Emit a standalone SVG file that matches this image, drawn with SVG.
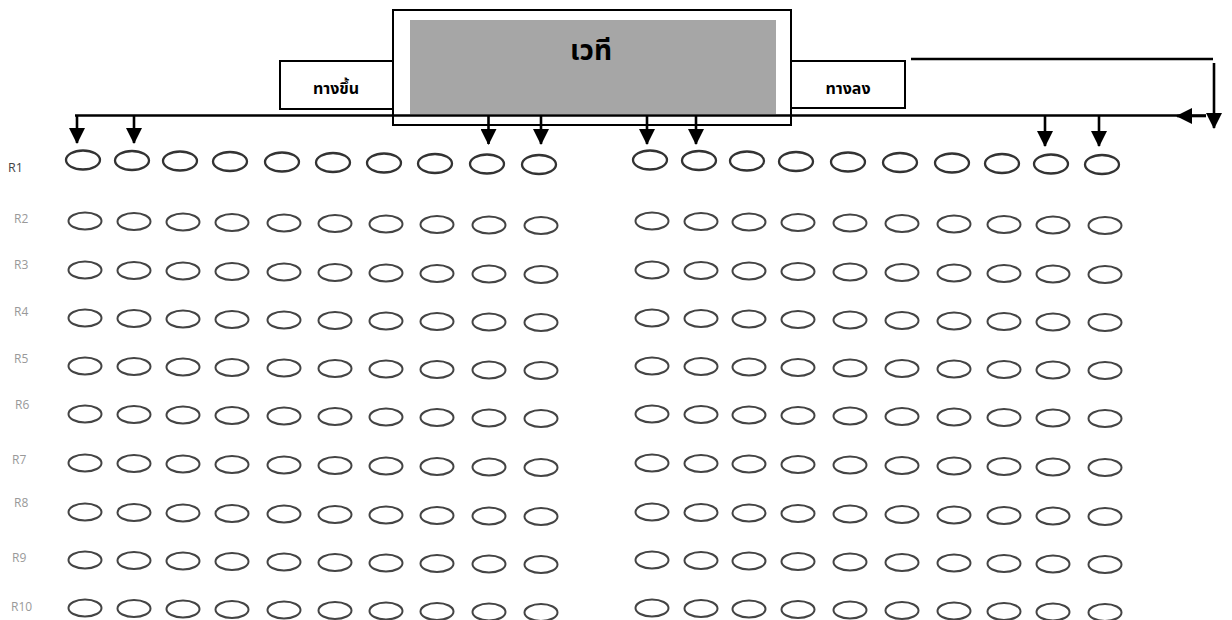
<svg xmlns="http://www.w3.org/2000/svg" width="1232" height="620" viewBox="0 0 1232 620">
<style>
.box{fill:#fff;stroke:#000;stroke-width:2}
.stage{fill:#a6a6a6;stroke:none}
.th{font-family:"Noto Sans Thai","Tahoma","Liberation Sans",sans-serif;font-weight:bold;fill:#000;text-anchor:middle}
.ln{fill:none;stroke:#000;stroke-width:2.6}
.s1{fill:none;stroke:#333;stroke-width:2.3}
.s{fill:none;stroke:#444;stroke-width:2}
.r1{font-family:"Open Sans","Liberation Sans",sans-serif;font-size:12.5px;fill:#444}
.r{font-family:"Open Sans","Liberation Sans",sans-serif;font-size:12px;fill:#999}
</style>
<defs>
<marker id="ah" markerUnits="userSpaceOnUse" markerWidth="16" markerHeight="16" viewBox="0 0 16 16" refX="15" refY="8" orient="auto">
<path d="M0,0 L16,8 L0,16 z" fill="#000"/>
</marker>
<g id="seats">
<ellipse class="s" cx="85" cy="0" rx="16.5" ry="8.5"/>
<ellipse class="s" cx="134" cy="0.5" rx="16.5" ry="8.5"/>
<ellipse class="s" cx="183" cy="1" rx="16.5" ry="8.5"/>
<ellipse class="s" cx="232" cy="1.5" rx="16.5" ry="8.5"/>
<ellipse class="s" cx="284" cy="2" rx="16.5" ry="8.5"/>
<ellipse class="s" cx="335" cy="2.5" rx="16.5" ry="8.5"/>
<ellipse class="s" cx="386" cy="3" rx="16.5" ry="8.5"/>
<ellipse class="s" cx="437" cy="3.5" rx="16.5" ry="8.5"/>
<ellipse class="s" cx="489" cy="4" rx="16.5" ry="8.5"/>
<ellipse class="s" cx="541" cy="4.5" rx="16.5" ry="8.5"/>
<ellipse class="s" cx="652" cy="0" rx="16.5" ry="8.5"/>
<ellipse class="s" cx="701" cy="0.5" rx="16.5" ry="8.5"/>
<ellipse class="s" cx="749" cy="1" rx="16.5" ry="8.5"/>
<ellipse class="s" cx="798" cy="1.5" rx="16.5" ry="8.5"/>
<ellipse class="s" cx="850" cy="2" rx="16.5" ry="8.5"/>
<ellipse class="s" cx="902" cy="2.5" rx="16.5" ry="8.5"/>
<ellipse class="s" cx="954" cy="3" rx="16.5" ry="8.5"/>
<ellipse class="s" cx="1004" cy="3.5" rx="16.5" ry="8.5"/>
<ellipse class="s" cx="1053" cy="4" rx="16.5" ry="8.5"/>
<ellipse class="s" cx="1105" cy="4.5" rx="16.5" ry="8.5"/>
</g>
</defs>
<rect width="1232" height="620" fill="#fff"/>

<g id="stage">
<rect class="box" x="393" y="10" width="398" height="115"/>
<rect class="stage" x="410" y="20" width="366" height="94"/>
<text class="th" x="591" y="60" font-size="28">เวที</text>
</g>
<g id="up-stairs">
<rect class="box" x="280" y="61" width="113" height="48"/>
<text class="th" x="336" y="94" font-size="16">ทางขึ้น</text>
</g>
<g id="down-stairs">
<rect class="box" x="791" y="61" width="114" height="47"/>
<text class="th" x="848" y="94" font-size="16">ทางลง</text>
</g>

<g id="connectors">
<line class="ln" x1="75" y1="115.5" x2="1206" y2="115.5"/>
<line class="ln" x1="1206" y1="116" x2="1177" y2="116" marker-end="url(#ah)"/>
<line class="ln" x1="911" y1="59" x2="1213" y2="59"/>
<line class="ln" x1="1214" y1="63" x2="1214" y2="128" marker-end="url(#ah)"/>
<line class="ln" x1="77" y1="115" x2="77" y2="143" marker-end="url(#ah)"/>
<line class="ln" x1="134" y1="115" x2="134" y2="143" marker-end="url(#ah)"/>
<line class="ln" x1="488.5" y1="115" x2="488.5" y2="144" marker-end="url(#ah)"/>
<line class="ln" x1="541" y1="115" x2="541" y2="144" marker-end="url(#ah)"/>
<line class="ln" x1="647" y1="115" x2="647" y2="144" marker-end="url(#ah)"/>
<line class="ln" x1="696" y1="115" x2="696" y2="144" marker-end="url(#ah)"/>
<line class="ln" x1="1045" y1="115" x2="1045" y2="146" marker-end="url(#ah)"/>
<line class="ln" x1="1099" y1="115" x2="1099" y2="146" marker-end="url(#ah)"/>
</g>

<g id="row-R1">
<text class="r1" x="8" y="172">R1</text>
<ellipse class="s1" cx="83" cy="160" rx="17" ry="9.5"/>
<ellipse class="s1" cx="132" cy="160.5" rx="17" ry="9.5"/>
<ellipse class="s1" cx="180" cy="161" rx="17" ry="9.5"/>
<ellipse class="s1" cx="230" cy="161.5" rx="17" ry="9.5"/>
<ellipse class="s1" cx="282" cy="162" rx="17" ry="9.5"/>
<ellipse class="s1" cx="333" cy="162.5" rx="17" ry="9.5"/>
<ellipse class="s1" cx="384" cy="163" rx="17" ry="9.5"/>
<ellipse class="s1" cx="435" cy="163.5" rx="17" ry="9.5"/>
<ellipse class="s1" cx="487" cy="164" rx="17" ry="9.5"/>
<ellipse class="s1" cx="539" cy="164.5" rx="17" ry="9.5"/>
<ellipse class="s1" cx="650" cy="160" rx="17" ry="9.5"/>
<ellipse class="s1" cx="699" cy="160.5" rx="17" ry="9.5"/>
<ellipse class="s1" cx="747" cy="161" rx="17" ry="9.5"/>
<ellipse class="s1" cx="796" cy="161.5" rx="17" ry="9.5"/>
<ellipse class="s1" cx="848" cy="162" rx="17" ry="9.5"/>
<ellipse class="s1" cx="900" cy="162.5" rx="17" ry="9.5"/>
<ellipse class="s1" cx="952" cy="163" rx="17" ry="9.5"/>
<ellipse class="s1" cx="1002" cy="163.5" rx="17" ry="9.5"/>
<ellipse class="s1" cx="1051" cy="164" rx="17" ry="9.5"/>
<ellipse class="s1" cx="1102" cy="164.5" rx="17" ry="9.5"/>
</g>

<g id="row-R2"><text class="r" x="14" y="223">R2</text><use href="#seats" y="221"/></g>
<g id="row-R3"><text class="r" x="14" y="269">R3</text><use href="#seats" y="270"/></g>
<g id="row-R4"><text class="r" x="14" y="316">R4</text><use href="#seats" y="318"/></g>
<g id="row-R5"><text class="r" x="14" y="363">R5</text><use href="#seats" y="366"/></g>
<g id="row-R6"><text class="r" x="15" y="409">R6</text><use href="#seats" y="414"/></g>
<g id="row-R7"><text class="r" x="12" y="464">R7</text><use href="#seats" y="463"/></g>
<g id="row-R8"><text class="r" x="14" y="507">R8</text><use href="#seats" y="512"/></g>
<g id="row-R9"><text class="r" x="12" y="562">R9</text><use href="#seats" y="560"/></g>
<g id="row-R10"><text class="r" x="11" y="611">R10</text><use href="#seats" y="608"/></g>
</svg>
